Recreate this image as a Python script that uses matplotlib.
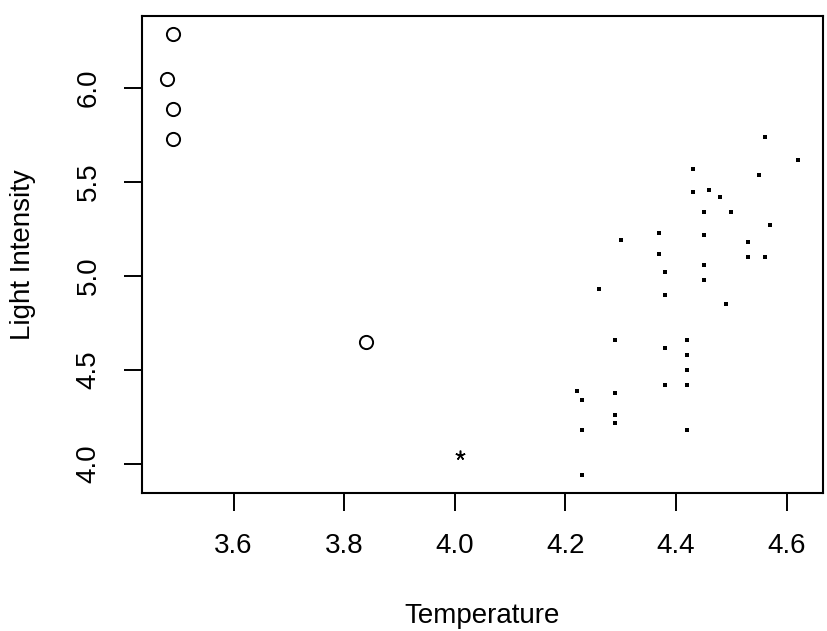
import matplotlib
matplotlib.use("Agg")
import matplotlib.pyplot as plt

# Star cluster data: log temperature vs log light intensity
# regular points
temp_main = [4.56, 4.62, 4.43, 4.55, 4.43, 4.46, 4.48, 4.45, 4.50, 4.57,
             4.37, 4.45, 4.30, 4.53, 4.37, 4.53, 4.56, 4.45, 4.38, 4.45,
             4.26, 4.38, 4.49, 4.29, 4.42, 4.38, 4.42, 4.42, 4.38, 4.42,
             4.22, 4.29, 4.23, 4.29, 4.29, 4.23, 4.42, 4.23]
light_main = [5.74, 5.62, 5.57, 5.54, 5.45, 5.46, 5.42, 5.34, 5.34, 5.27,
              5.23, 5.22, 5.19, 5.18, 5.12, 5.10, 5.10, 5.06, 5.02, 4.98,
              4.93, 4.90, 4.85, 4.66, 4.66, 4.62, 4.58, 4.50, 4.42, 4.42,
              4.39, 4.38, 4.34, 4.26, 4.22, 4.18, 4.18, 3.94]

# giants plotted with "o"
temp_out = [3.49, 3.48, 3.49, 3.49, 3.84]
light_out = [6.29, 6.05, 5.89, 5.73, 4.65]

# the odd one plotted with "*"
temp_star = [4.01]
light_star = [4.05]

x_ticks = [3.6, 3.8, 4.0, 4.2, 4.4, 4.6]
y_ticks = [4.0, 4.5, 5.0, 5.5, 6.0]

plt.rcParams['font.family'] = ['Liberation Sans', 'DejaVu Sans']

fig = plt.figure(figsize=(8.27, 6.31), dpi=100)
ax = fig.add_axes([142 / 827, 1 - 493 / 631, (823 - 142) / 827, (493 - 16) / 631])

ax.plot(temp_main, light_main, linestyle='none', marker='s', ms=2.2,
        color='black', mew=0)
ax.plot(temp_out, light_out, linestyle='none', marker='o', ms=9.5,
        mfc='none', mec='black', mew=1.4)
ax.plot(temp_star, light_star, linestyle='none', marker=(5, 2, 0), ms=7,
        color='black', mew=1.1)

# R-style axis ranges (4% padding)
xr = max(temp_out + temp_main) - min(temp_out + temp_main)
yr = max(light_out + light_main) - min(light_out + light_main)
ax.set_xlim(min(temp_out) - 0.04 * xr, max(temp_main) + 0.04 * xr)
ax.set_ylim(min(light_main) - 0.04 * yr, max(light_out) + 0.04 * yr)

ax.set_xticks(x_ticks)
ax.set_yticks(y_ticks)
ax.set_xticklabels([f"{v:.1f}" for v in x_ticks])
ax.set_yticklabels([f"{v:.1f}" for v in y_ticks], rotation=90, va='center')
ax.tick_params(length=13, width=1.4, labelsize=20, pad=16)

for s in ax.spines.values():
    s.set_linewidth(1.5)

ax.set_xlabel("Temperature", fontsize=20, va='baseline')
ax.set_ylabel("Light Intensity", fontsize=20, va='baseline',
              rotation_mode='anchor')
ax.xaxis.set_label_coords(0.5, -0.2725)
ax.yaxis.set_label_coords(-0.1645, 0.5)

fig.savefig("out.png", dpi=100)
